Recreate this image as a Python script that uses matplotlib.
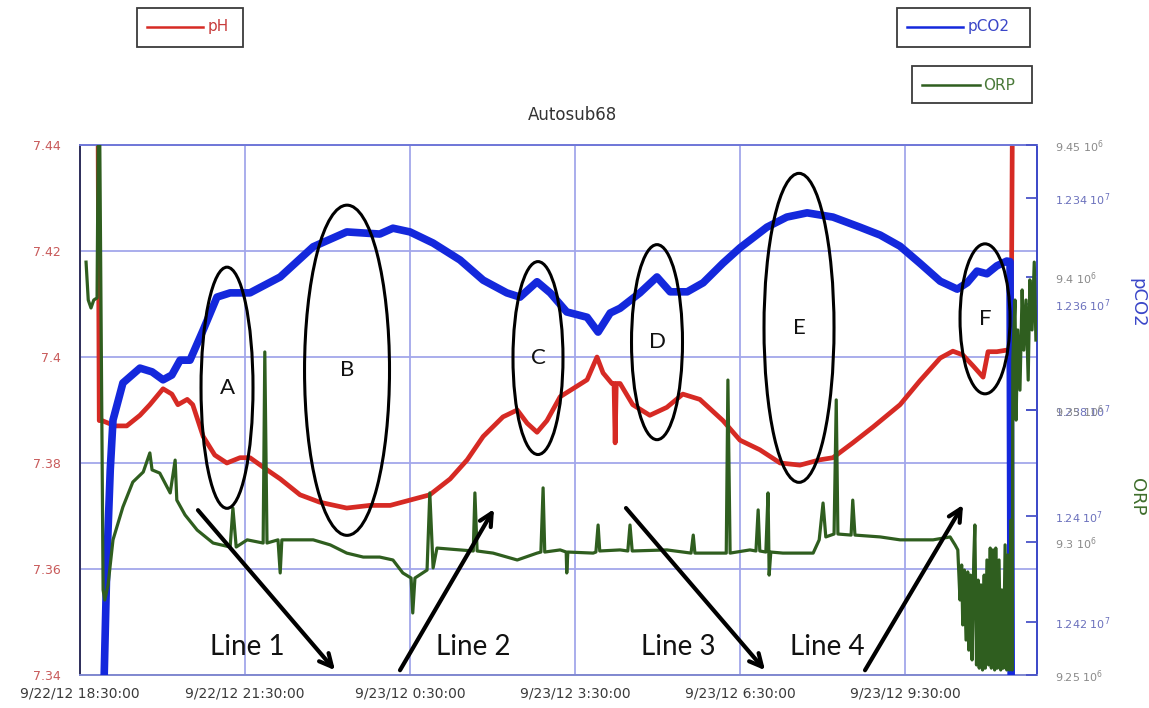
"""Autosub68 pH / pCO2 / ORP time series with annotated features."""
import matplotlib

matplotlib.use("Agg")
import matplotlib.pyplot as plt  # noqa: E402
from matplotlib.lines import Line2D  # noqa: E402
from matplotlib.patches import Ellipse, Rectangle  # noqa: E402

W, H = 1149, 708

PH_RED = "#d62a24"
CO2_BLUE = "#1428dc"
ORP_GREEN = "#2f5e1f"
GRID = "#a2a7ea"

# time in hours since 9/22/12 18:30:00
time_ticks = [0, 3, 6, 9, 12, 15]
time_labels = ["9/22/12 18:30:00", "9/22/12 21:30:00", "9/23/12 0:30:00",
               "9/23/12 3:30:00", "9/23/12 6:30:00", "9/23/12 9:30:00"]

ph_ticks = [7.34, 7.36, 7.38, 7.40, 7.42, 7.44]
ph_labels = ["7.34", "7.36", "7.38", "7.4", "7.42", "7.44"]

co2_ticks = [1.234, 1.236, 1.238, 1.240, 1.242]          # x 10^7
co2_labels = ["1.234", "1.236", "1.238", "1.24", "1.242"]

orp_ticks = [9.25, 9.30, 9.35, 9.40, 9.45]                # x 10^6
orp_labels = ["9.25", "9.3", "9.35", "9.4", "9.45"]

ph_hours = [0.33, 0.35, 0.40, 0.64, 0.85, 1.09, 1.27, 1.51, 1.67, 1.78,
            1.95, 2.05, 2.24, 2.45, 2.67, 2.91, 3.09, 3.36, 3.64, 4.00,
            4.36, 4.85, 5.27, 5.64, 6.00, 6.36, 6.73, 7.04, 7.33, 7.69,
            7.95, 8.13, 8.31, 8.49, 8.73, 8.96, 9.22, 9.40, 9.51, 9.67,
            9.71, 9.73, 9.75, 9.82, 10.05, 10.36, 10.67, 10.96, 11.27, 11.69,
            12.00, 12.36, 12.73, 13.09, 13.45, 13.69, 14.05, 14.42, 14.91, 15.27,
            15.64, 15.87, 16.05, 16.24, 16.42, 16.51, 16.67, 16.85, 16.93, 16.95]
ph_values = [7.440, 7.388, 7.388, 7.387, 7.387, 7.389, 7.391, 7.394, 7.393, 7.391,
             7.392, 7.391, 7.385, 7.3815, 7.380, 7.381, 7.381, 7.379, 7.377, 7.374,
             7.3726, 7.3715, 7.372, 7.372, 7.373, 7.374, 7.377, 7.3806, 7.385, 7.3887,
             7.390, 7.3875, 7.3858, 7.388, 7.3925, 7.394, 7.3957, 7.400, 7.397, 7.395,
             7.395, 7.3838, 7.395, 7.395, 7.391, 7.389, 7.3905, 7.393, 7.392, 7.388,
             7.3843, 7.3825, 7.380, 7.3796, 7.3806, 7.381, 7.3838, 7.3868, 7.391, 7.3955,
             7.3998, 7.4011, 7.4004, 7.3983, 7.3962, 7.401, 7.401, 7.4013, 7.401, 7.440]

co2_hours = [0.44, 0.49, 0.55, 0.60, 0.78, 1.09, 1.31, 1.51, 1.67, 1.82,
             2.00, 2.24, 2.49, 2.73, 3.09, 3.64, 4.24, 4.85, 5.45, 5.69,
             6.00, 6.42, 6.91, 7.33, 7.76, 8.00, 8.31, 8.55, 8.85, 9.22,
             9.42, 9.64, 9.82, 10.18, 10.49, 10.73, 11.04, 11.33, 11.69, 12.00,
             12.49, 12.85, 13.22, 13.69, 14.18, 14.55, 14.91, 15.27, 15.64, 15.95,
             16.13, 16.31, 16.49, 16.67, 16.85, 16.91, 16.93]
co2_values = [1.2430, 1.24083, 1.23913, 1.23819, 1.23749, 1.23721, 1.23728, 1.23743, 1.23734, 1.23706,
              1.23706, 1.23649, 1.23587, 1.23579, 1.23579, 1.23549, 1.23492, 1.23464, 1.23468, 1.23457,
              1.23464, 1.23485, 1.23517, 1.23555, 1.23579, 1.23587, 1.23558, 1.23579, 1.23615, 1.23625,
              1.23653, 1.23617, 1.23608, 1.23579, 1.23549, 1.23577, 1.23577, 1.2356, 1.23523, 1.23494,
              1.23455, 1.23436, 1.23428, 1.23436, 1.23455, 1.2347, 1.23491, 1.23523, 1.23557, 1.23572,
              1.2356, 1.23538, 1.23543, 1.23528, 1.23519, 1.2352, 1.2430]

orp_hours = [0.11, 0.15, 0.20, 0.25, 0.31, 0.33, 0.36, 0.42, 0.45, 0.51,
             0.60, 0.78, 0.96, 1.15, 1.27, 1.31, 1.45, 1.64, 1.73, 1.76,
             1.91, 2.13, 2.42, 2.73, 2.78, 2.84, 3.04, 3.33, 3.36, 3.40,
             3.60, 3.64, 3.67, 3.95, 4.24, 4.55, 4.85, 5.15, 5.45, 5.69,
             5.87, 6.02, 6.05, 6.09, 6.31, 6.36, 6.42, 6.49, 6.91, 7.15,
             7.18, 7.22, 7.51, 7.95, 8.31, 8.38, 8.42, 8.45, 8.73, 8.84,
             8.85, 8.87, 9.33, 9.38, 9.42, 9.45, 9.82, 9.96, 10.00, 10.04,
             10.67, 11.11, 11.15, 11.18, 11.75, 11.78, 11.82, 12.18, 12.29, 12.33,
             12.36, 12.47, 12.51, 12.53, 12.56, 12.78, 13.33, 13.44, 13.51, 13.56,
             13.71, 13.75, 13.78, 14.02, 14.05, 14.09, 14.55, 14.91, 15.51, 15.82,
             15.91, 15.96, 16.00, 16.03, 16.05, 16.08, 16.11, 16.14, 16.16, 16.19,
             16.22, 16.25, 16.27, 16.30, 16.33, 16.35, 16.38, 16.41, 16.44, 16.46,
             16.49, 16.52, 16.55, 16.57, 16.60, 16.63, 16.65, 16.68, 16.71, 16.74,
             16.76, 16.79, 16.82, 16.85, 16.87, 16.90, 16.93, 16.95, 16.96, 17.00,
             17.02, 17.05, 17.09, 17.13, 17.16, 17.20, 17.24, 17.27, 17.31, 17.35,
             17.38]
orp_values = [9.4058, 9.3915, 9.3885, 9.3915, 9.3923, 9.45, 9.45, 9.2821, 9.2783, 9.284,
              9.301, 9.3134, 9.3228, 9.3266, 9.3338, 9.3274, 9.3262, 9.3187, 9.3311, 9.316,
              9.3104, 9.3047, 9.2998, 9.2983, 9.313, 9.2983, 9.301, 9.2998, 9.3719, 9.2998,
              9.301, 9.2885, 9.301, 9.301, 9.301, 9.2991, 9.296, 9.2945, 9.2945, 9.2934,
              9.2885, 9.2866, 9.2734, 9.2866, 9.2896, 9.3187, 9.2904, 9.2979, 9.2972, 9.2968,
              9.3187, 9.2968, 9.296, 9.2934, 9.296, 9.2964, 9.3206, 9.2964, 9.2972, 9.2964,
              9.2885, 9.2964, 9.296, 9.2964, 9.3066, 9.2968, 9.2972, 9.2968, 9.3066, 9.2968,
              9.2972, 9.296, 9.3028, 9.296, 9.296, 9.3613, 9.296, 9.2972, 9.2968, 9.3123,
              9.2968, 9.2964, 9.3187, 9.2877, 9.2964, 9.296, 9.296, 9.301, 9.3149, 9.3021,
              9.3032, 9.3538, 9.3032, 9.3028, 9.316, 9.3028, 9.3021, 9.301, 9.301, 9.3021,
              9.2991, 9.2972, 9.2783, 9.2915, 9.2689, 9.2896, 9.2632, 9.2889, 9.2594, 9.2877,
              9.2557, 9.2934, 9.3066, 9.2538, 9.2858, 9.2526, 9.284, 9.2519, 9.2877, 9.2526,
              9.2934, 9.2538, 9.2979, 9.2526, 9.2972, 9.2519, 9.2979, 9.2526, 9.2934, 9.2519,
              9.2821, 9.2526, 9.2991, 9.2519, 9.2953, 9.2519, 9.3085, 9.2519, 9.3689, 9.3915,
              9.3462, 9.3802, 9.3575, 9.3953, 9.3726, 9.3915, 9.3613, 9.3991, 9.3802, 9.4058,
              9.3764]

# marked features: label, centre (hours, pH), width (hours), height (pH)
features = [("A", 2.673, 7.3942, 0.945, 0.0455),
            ("B", 4.855, 7.3975, 1.545, 0.0623),
            ("C", 8.327, 7.3998, 0.909, 0.0364),
            ("D", 10.491, 7.4028, 0.927, 0.0368),
            ("E", 13.073, 7.4055, 1.273, 0.0583),
            ("F", 16.455, 7.4072, 0.909, 0.0283)]

# transect arrows: label, label position, tail, head (hours, pH)
transects = [("Line 1", (3.036, 7.3453), (2.145, 7.3711), (4.636, 7.3409)),
             ("Line 2", (7.145, 7.3453), (5.818, 7.3409), (7.527, 7.3713)),
             ("Line 3", (10.873, 7.3453), (9.927, 7.3715), (12.455, 7.3409)),
             ("Line 4", (13.582, 7.3453), (14.273, 7.3409), (16.055, 7.3721))]


def px(x, y):
    return x / W, 1 - y / H


def legend_box(fig, box, line_x, text_x, y, label, color, text_color):
    x0, y0, x1, y1 = box
    fig.add_artist(Rectangle(px(x0, y1), (x1 - x0) / W, (y1 - y0) / H, fill=False,
                             ec="#3c3c3c", lw=1.3, transform=fig.transFigure))
    fig.add_artist(Line2D([line_x[0] / W, line_x[1] / W], [1 - y / H] * 2, color=color,
                          lw=1.8, transform=fig.transFigure))
    fig.text(*px(text_x, y), label, color=text_color, fontsize=11, ha="left", va="center")


fig = plt.figure(figsize=(W / 100, H / 100), dpi=100)
ax = fig.add_axes([80 / W, 1 - 675 / H, (1037 - 80) / W, (675 - 145) / H])
ax2 = ax.twinx()
ax3 = ax.twinx()

ax.plot(ph_hours, ph_values, color=PH_RED, lw=3.4)
ax2.plot(co2_hours, co2_values, color=CO2_BLUE, lw=5.5)
ax3.plot(orp_hours, orp_values, color=ORP_GREEN, lw=2.3)

ax.set_xlim(0, 17.4)
ax.set_ylim(7.34, 7.44)
ax.set_xticks(time_ticks)
ax.set_xticklabels(time_labels)
ax.set_yticks(ph_ticks)
ax.set_yticklabels(ph_labels)
ax.grid(True, color=GRID, lw=1.3)
ax.tick_params(axis="x", length=0, pad=8, labelsize=10, labelcolor="#3a3a3a")
ax.tick_params(axis="y", length=0, pad=14, labelsize=9, labelcolor="#c85a5a")
ax.spines["left"].set_color("#2e2e5a")
ax.spines["top"].set_color("#6f77d8")
ax.spines["right"].set_color("#3a46c8")
ax.spines["bottom"].set_color("#8088d0")
for s in ax.spines.values():
    s.set_linewidth(1.4)

ax2.set_ylim(1.243, 1.233)
ax2.set_yticks(co2_ticks)
ax2.set_yticklabels([f"{t} $\\mathregular{{10^{{7}}}}$" for t in co2_labels])
ax2.tick_params(axis="y", direction="in", length=8, width=1.3, color="#4a54c8",
                labelsize=8, labelcolor="#6a70bc", pad=13)

ax3.set_ylim(9.25, 9.45)
ax3.set_yticks(orp_ticks)
ax3.set_yticklabels([f"{t} $\\mathregular{{10^{{6}}}}$" for t in orp_labels])
ax3.tick_params(axis="y", direction="in", length=8, width=1.3, color="#4a54c8",
                labelsize=8, labelcolor="#8a8a8a", pad=13)

for twin in (ax2, ax3):
    for s in twin.spines.values():
        s.set_visible(False)

# feature ellipses and transect arrows sit above all three series
for name, cx, cy, w, h in features:
    fig.add_artist(Ellipse((cx, cy), w, h, fill=False, ec="black", lw=2.2,
                           transform=ax.transData))
    ax3.text(cx, cy, name, transform=ax.transData, fontsize=16, family="Lato",
             ha="center", va="center", color="#111111")

for name, pos, tail, head in transects:
    ax3.annotate("", xy=head, xytext=tail, xycoords=ax.transData, textcoords=ax.transData,
                 arrowprops=dict(arrowstyle="->,head_length=0.9,head_width=0.45", lw=3,
                                 color="black", shrinkA=0, shrinkB=0))
    ax3.text(pos[0], pos[1], name, transform=ax.transData, fontsize=20, family="Lato",
             ha="center", va="center", color="#111111")

fig.text(*px(572, 115), "Autosub68", fontsize=12, color="#333333", ha="center", va="center")
fig.text(*px(1137, 303), "pCO2", fontsize=13, color="#3a46c8", rotation=270,
         ha="center", va="center")
fig.text(*px(1137, 497), "ORP", fontsize=13, color="#3f6e2c", rotation=270,
         ha="center", va="center")

legend_box(fig, (137, 8, 243, 47), (147, 203), 208, 27, "pH", PH_RED, "#c83c3c")
legend_box(fig, (897, 8, 1030, 47), (907, 963), 968, 27, "pCO2", CO2_BLUE, "#3a46c8")
legend_box(fig, (912, 66, 1032, 103), (922, 980), 983, 85, "ORP", ORP_GREEN, "#4a7a3a")

fig.savefig("out.png", dpi=100)
plt.close(fig)
